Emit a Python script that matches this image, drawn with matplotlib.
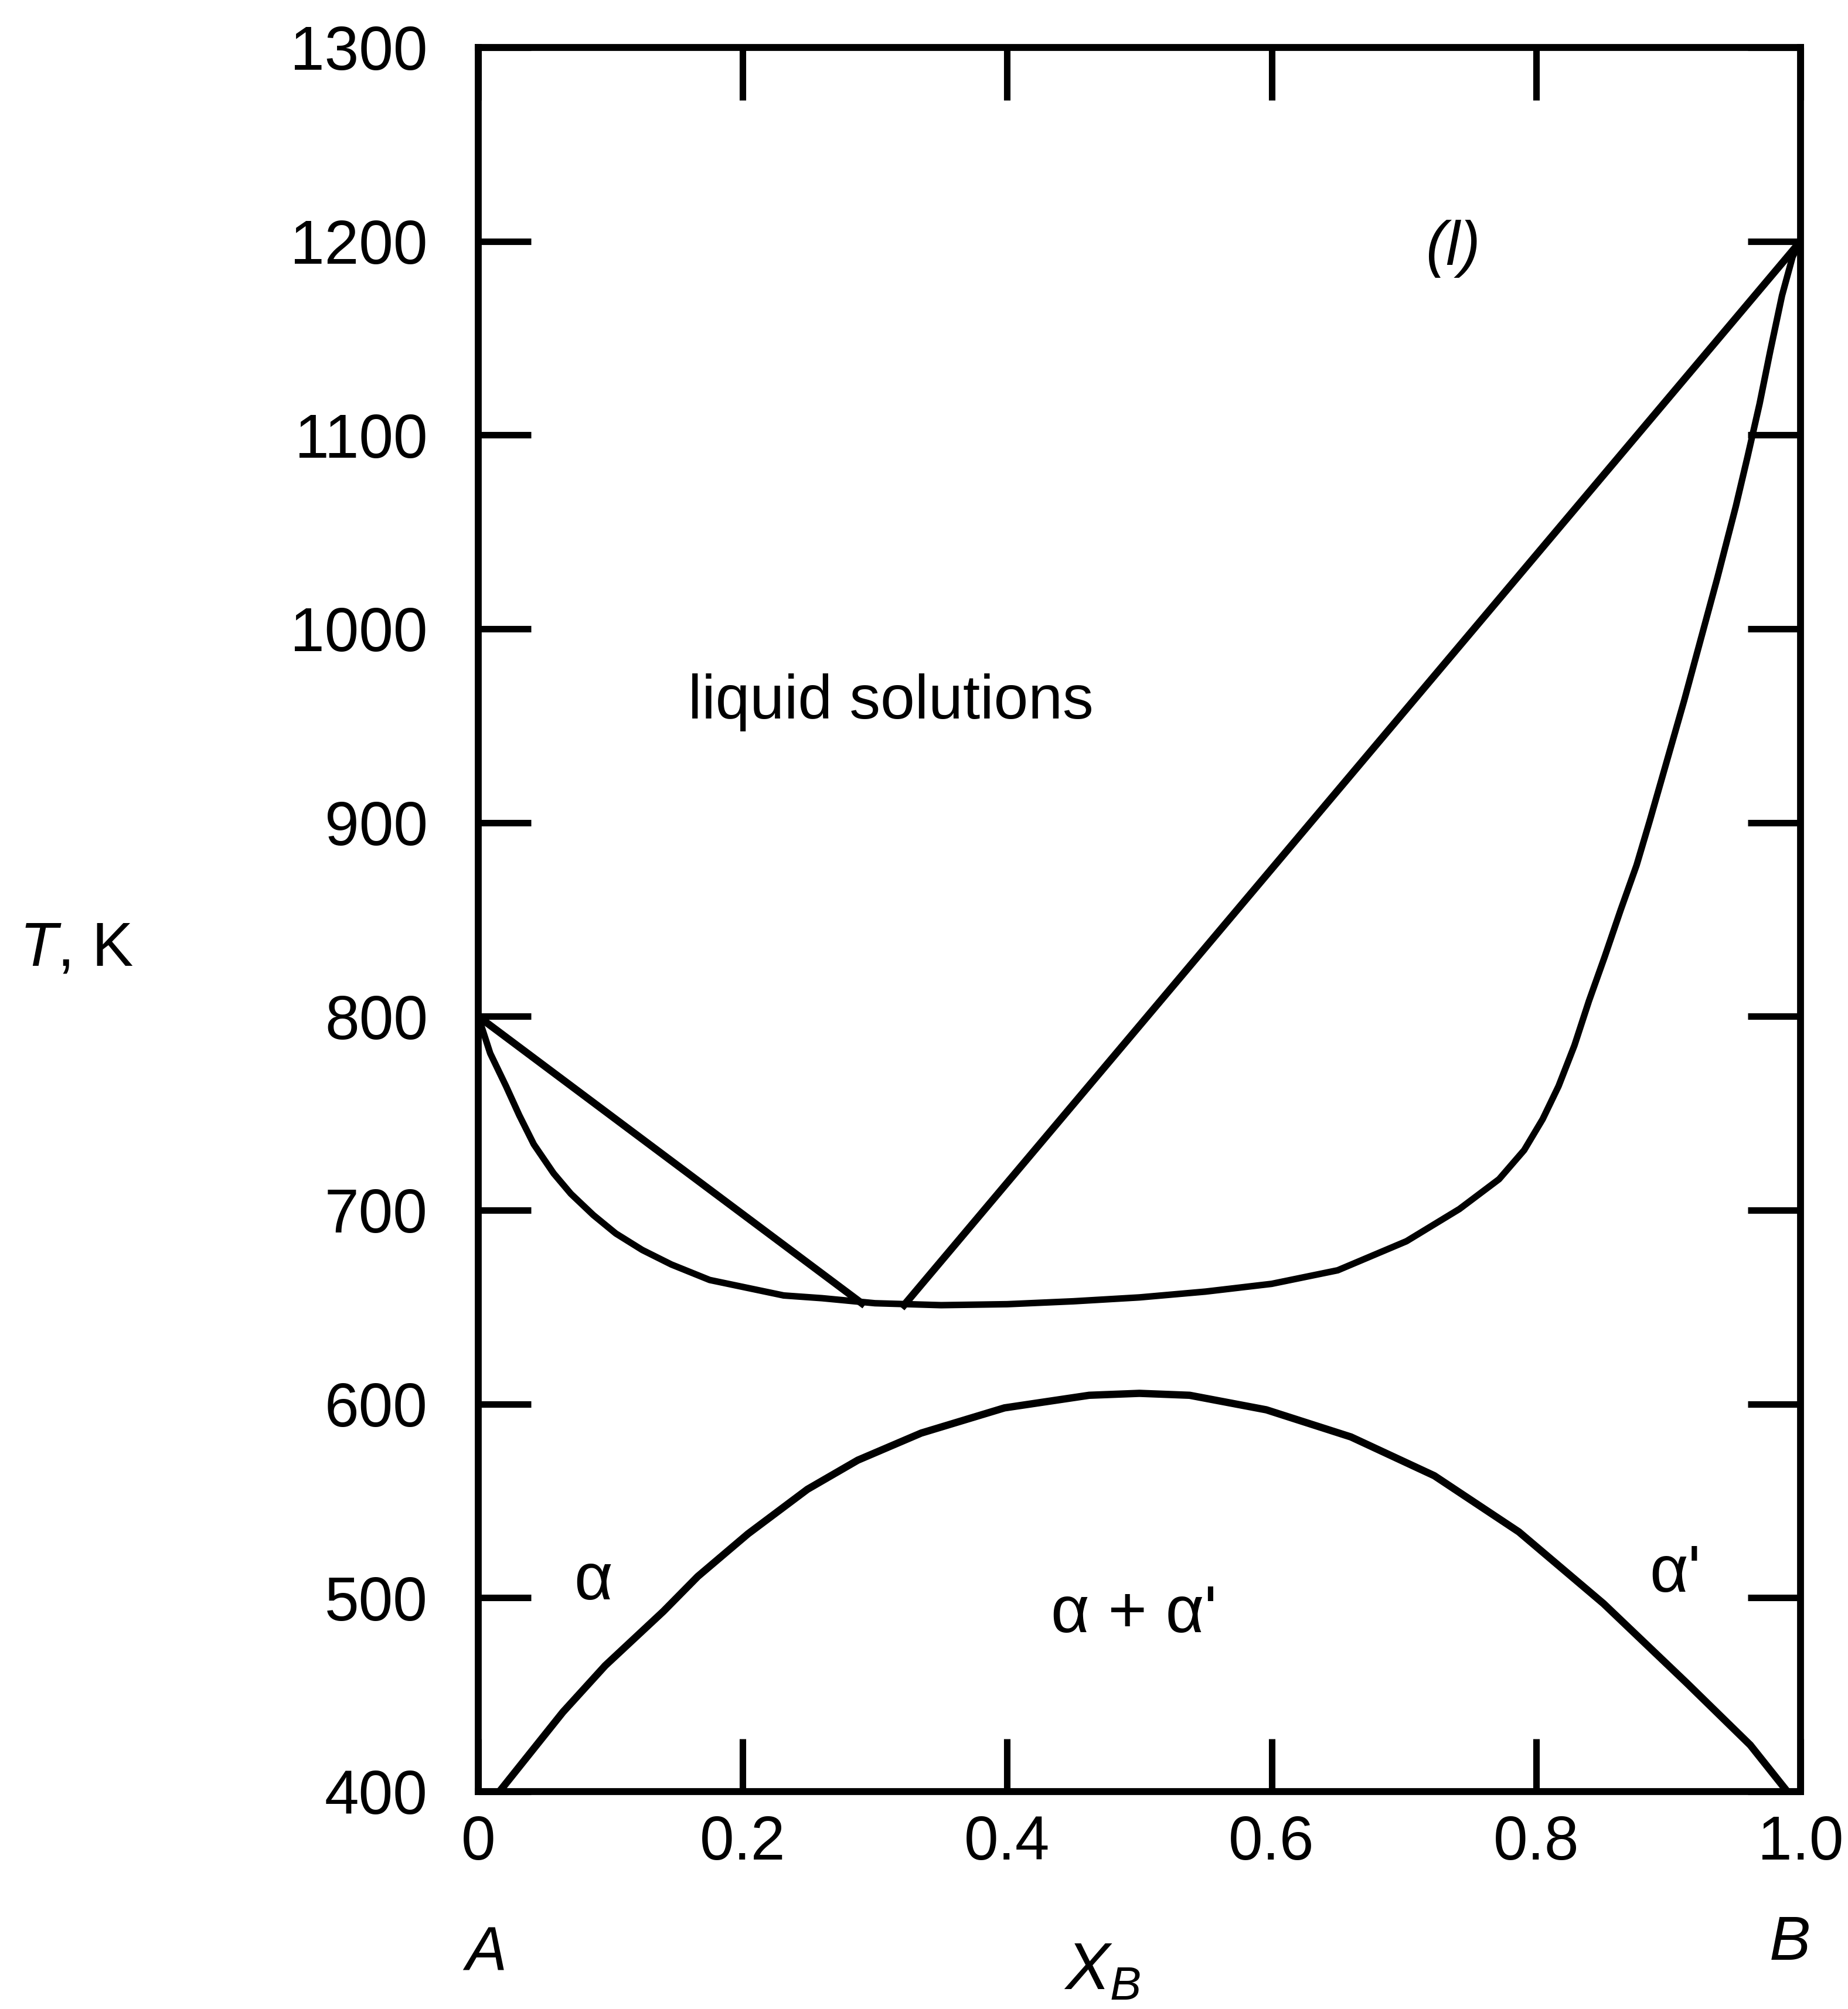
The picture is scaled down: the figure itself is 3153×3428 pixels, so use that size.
import numpy as np
import matplotlib
matplotlib.use("Agg")
import matplotlib.pyplot as plt

# Fonte parecida com Helvetica
plt.rcParams["font.family"] = ["Liberation Sans", "DejaVu Sans"]
plt.rcParams["mathtext.fontset"] = "custom"
plt.rcParams["mathtext.rm"] = "Liberation Sans"
plt.rcParams["mathtext.it"] = "Liberation Sans:italic"

# Curva inferior da região líquida (solidus)
x_sol = [0.000, 0.009, 0.021, 0.031, 0.042, 0.057, 0.070, 0.087, 0.104, 0.124,
         0.146, 0.175, 0.231, 0.260, 0.300, 0.350, 0.400, 0.450, 0.500, 0.550,
         0.600, 0.650, 0.702, 0.742, 0.772, 0.791, 0.805, 0.817, 0.829, 0.840,
         0.852, 0.864, 0.876, 0.886, 0.912, 0.937, 0.951, 0.960, 0.969, 0.977,
         0.986, 0.994, 1.000]
T_sol = [800, 781, 764, 749, 734, 719, 708.5, 697.5, 688, 679.5,
         672, 664, 656, 654.6, 652, 651, 651.5, 653, 655, 658,
         662, 669, 684, 700.6, 716, 731, 747, 764, 785, 808,
         831, 855, 878, 901, 963, 1026, 1063, 1089, 1116, 1143,
         1172, 1192, 1200]

# Linhas retas do liquidus
x_liq_esq = [0.0, 0.29]
T_liq_esq = [800, 652]
x_liq_dir = [0.322, 1.0]
T_liq_dir = [651, 1200]

# Lacuna de miscibilidade alfa + alfa'
x_gap = [0.016, 0.064, 0.096, 0.140, 0.166, 0.204, 0.249, 0.287, 0.335, 0.398,
         0.462, 0.500, 0.538, 0.596, 0.660, 0.723, 0.787, 0.851, 0.914, 0.962,
         0.990]
T_gap = [400, 441, 465, 493, 511, 533, 556, 571, 585, 598,
         604.5, 605.5, 604.5, 597, 583, 563, 534, 497, 456, 424,
         400]

x_ticks = [0, 0.2, 0.4, 0.6, 0.8, 1.0]
x_ticklabels = ["0", "0.2", "0.4", "0.6", "0.8", "1.0"]
y_ticks = [400, 500, 600, 700, 800, 900, 1000, 1100, 1200, 1300]

W, H = 3153, 3428
fig = plt.figure(figsize=(W / 100, H / 100), dpi=100)
ax = fig.add_axes([816 / W, 1 - 3057 / H, (3072 - 816) / W, (3057 - 81) / H])

lw = 9
ax.plot(x_sol, T_sol, color="black", lw=8, solid_joinstyle="round")
ax.plot(x_liq_esq, T_liq_esq, color="black", lw=lw)
ax.plot(x_liq_dir, T_liq_dir, color="black", lw=lw)
ax.plot(x_gap, T_gap, color="black", lw=lw, solid_joinstyle="round")

ax.set_xlim(0, 1.0)
ax.set_ylim(400, 1300)
ax.set_xticks(x_ticks)
ax.set_xticklabels(x_ticklabels)
ax.set_yticks(y_ticks)

for s in ax.spines.values():
    s.set_linewidth(8.5)

ax.tick_params(axis="both", which="major", direction="in", length=65, width=8,
               top=True, right=True, labelsize=76)
ax.tick_params(axis="x", pad=28)
ax.tick_params(axis="y", pad=62)

fs = 76
ax.text(0.312, 962, "liquid solutions", fontsize=fs, ha="center", va="center")
ax.text(0.737, 1196, "(l)", fontsize=fs, ha="center", va="center", style="italic")
ax.text(0.087, 508, "α", fontsize=fs + 6, ha="center", va="center")
ax.text(0.496, 491, "α + α'", fontsize=fs + 6, ha="center", va="center")
ax.text(0.905, 512, "α'", fontsize=fs + 6, ha="center", va="center")

fig.text(130 / W, 1 - 1620 / H, "$T$, K", fontsize=fs, ha="center", va="center")
fig.text(825 / W, 1 - 3333 / H, "$A$", fontsize=fs, ha="center", va="center")
fig.text(3052 / W, 1 - 3317 / H, "$B$", fontsize=fs, ha="center", va="center")
fig.text(1880 / W, 1 - 3365 / H, "$X_B$", fontsize=fs + 6, ha="center", va="center")

plt.savefig("out.png", dpi=100)
